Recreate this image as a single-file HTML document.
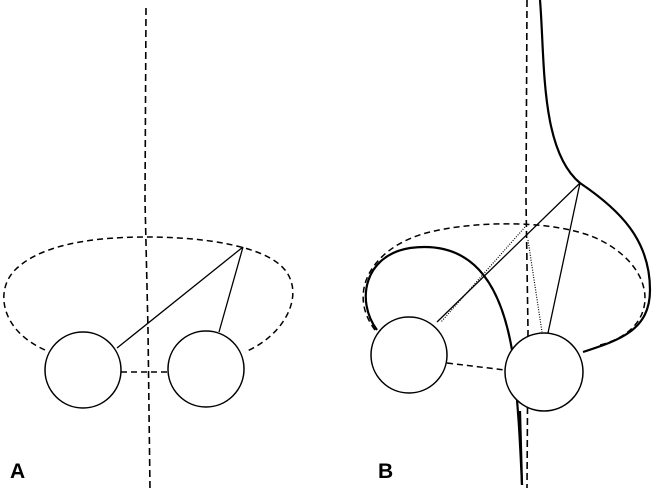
<!DOCTYPE html>
<html><head><style>body{margin:0;background:#fff}</style></head><body>
<svg width="654" height="492" viewBox="0 0 654 492" xmlns="http://www.w3.org/2000/svg" fill="none" stroke="#000">
<!-- Panel A -->
<path d="M146 8 L145 200 L148 330 L150 490" stroke-width="1.6" stroke-dasharray="7,4"/>
<path d="M45 350 C0 330 -5 290 15 270 C45 240 110 237 148 237 C200 237 265 245 285 270 C305 295 285 335 245 352" stroke-width="1.5" stroke-dasharray="6,4"/>
<path d="M121 372 L168 372" stroke-width="1.5" stroke-dasharray="6,4"/>
<circle cx="83" cy="370" r="38" fill="#fff" stroke-width="1.5"/>
<circle cx="206" cy="369" r="38" fill="#fff" stroke-width="1.5"/>
<path d="M243 247 L117 348 M243 247 L219 332" stroke-width="1.3"/>
<text x="10" y="478" font-family="Liberation Sans, sans-serif" font-weight="bold" font-size="21" fill="#000" stroke="none">A</text>
<!-- Panel B -->
<path d="M527 0 L526 200 L528 330 L527 488" stroke-width="1.6" stroke-dasharray="7,4"/>
<path d="M375 330 C345 290 375 245 430 232 C480 220 560 220 600 240 C660 270 660 330 600 345 M447 363 L505 370" stroke-width="1.5" stroke-dasharray="6,4"/>
<path d="M540 0 C545 60 540 150 580 183 C620 210 650 240 650 290 C650 330 620 340 583 352" stroke-width="2.2"/>
<path d="M377 330 C355 300 365 255 410 248 C470 240 500 280 512 350 C518 400 520 440 522 485" stroke-width="2.2"/>
<path d="M580 183 L437 322 M580 183 L548 333" stroke-width="1.3"/>
<path d="M525 227 L441 322 M528 240 L542 332" stroke-width="1.2" stroke-dasharray="1,1.5"/>
<circle cx="409" cy="355" r="38" fill="#fff" stroke-width="1.5"/>
<circle cx="544" cy="372" r="39" fill="#fff" stroke-width="1.5"/>
<path d="M520 411 L522 485" stroke-width="2.2"/>
<text x="378" y="478" font-family="Liberation Sans, sans-serif" font-weight="bold" font-size="21" fill="#000" stroke="none">B</text>
</svg>
</body></html>
